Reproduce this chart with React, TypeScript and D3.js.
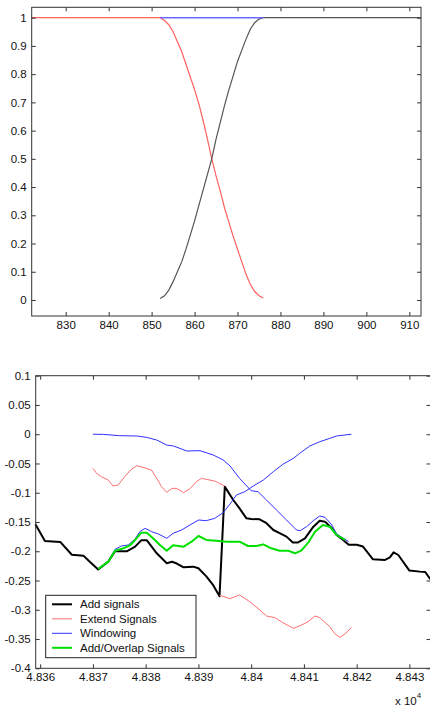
import React, { useEffect, useRef } from "react";
import * as d3 from "d3";

// ---- top chart: crossfade windows ----
const winX = [852, 853, 854, 855, 856, 857, 858, 859, 860, 861, 862, 863, 864,
  865, 866, 867, 868, 869, 870, 871, 872, 873, 874, 875, 876];
const fadeOut = [1.0, 0.99, 0.975, 0.95, 0.915, 0.88, 0.835, 0.79, 0.745, 0.695, 0.635, 0.57, 0.5,
  0.44, 0.385, 0.325, 0.275, 0.225, 0.18, 0.135, 0.09, 0.055, 0.03, 0.015, 0.007];
const fadeIn = [0.005, 0.015, 0.035, 0.065, 0.1, 0.135, 0.18, 0.23, 0.28, 0.335, 0.39, 0.445, 0.5,
  0.57, 0.63, 0.69, 0.745, 0.795, 0.845, 0.885, 0.925, 0.96, 0.982, 0.995, 1.0];
const topXTicks = [830, 840, 850, 860, 870, 880, 890, 900, 910];
const topYTicks = [0, 0.1, 0.2, 0.3, 0.4, 0.5, 0.6, 0.7, 0.8, 0.9, 1];

// ---- bottom chart: signal joining ----
const addSignals: [number, number][] = [
  [48359.1, -0.154], [48360.9, -0.1825], [48363.8, -0.184], [48366, -0.206], [48368.2, -0.2075],
  [48369.4, -0.218], [48371, -0.231], [48372.9, -0.218], [48374.2, -0.2], [48376.4, -0.2],
  [48378, -0.192], [48379.2, -0.181], [48380.2, -0.181], [48382.1, -0.2035], [48384, -0.2206],
  [48385, -0.218], [48385.9, -0.221], [48387.2, -0.2275], [48389, -0.2263], [48390, -0.229],
  [48391.5, -0.243], [48392.8, -0.258], [48394, -0.277], [48395, -0.0896], [48396.6, -0.1124],
  [48397.8, -0.1267], [48399.1, -0.1437], [48400, -0.1449], [48401.6, -0.1454], [48402.9, -0.152],
  [48404.2, -0.1637], [48405.4, -0.169], [48406.7, -0.175], [48407.9, -0.185], [48408.9, -0.185],
  [48410.2, -0.178], [48411.8, -0.158], [48413, -0.148], [48414, -0.1494], [48415.3, -0.1608],
  [48416.2, -0.172], [48417.5, -0.181], [48418.5, -0.189], [48420, -0.189], [48421.2, -0.192],
  [48423.1, -0.2138], [48425.3, -0.215], [48426.3, -0.2104], [48427, -0.2018], [48427.9, -0.2064],
  [48430, -0.233], [48432, -0.2348], [48433, -0.2354], [48434, -0.248],
];
const extendBefore: [number, number][] = [
  [48370, -0.0583], [48370.7, -0.0669], [48371.6, -0.0726], [48372.9, -0.0783], [48373.8, -0.0885],
  [48374.8, -0.0868], [48376, -0.0726], [48377.3, -0.06], [48378.3, -0.0538], [48379.5, -0.0566],
  [48381.1, -0.0612], [48382.1, -0.0754], [48383, -0.0896], [48384, -0.0993], [48385, -0.0925],
  [48385.9, -0.0925], [48387.2, -0.0999], [48388.5, -0.0925], [48389.6, -0.0811], [48390.6, -0.0754],
  [48391.5, -0.0771], [48393.1, -0.08], [48395, -0.0885],
];
const extendAfter: [number, number][] = [
  [48394, -0.2753], [48396, -0.281], [48397.8, -0.2747], [48399.7, -0.286], [48401.3, -0.2975],
  [48402.9, -0.3106], [48404.5, -0.3134], [48406, -0.322], [48408, -0.3317], [48409.3, -0.3271],
  [48410.8, -0.3203], [48412.1, -0.3106], [48413, -0.3134], [48414.9, -0.3288], [48415.9, -0.3413],
  [48416.8, -0.347], [48417.8, -0.3413], [48419, -0.3305],
];
const windowIn: [number, number][] = [
  [48370, 0], [48372, -0.0003], [48375, -0.0025], [48378.3, -0.003], [48380.2, -0.0054],
  [48382.1, -0.01], [48384, -0.0185], [48385.3, -0.0202], [48387.8, -0.0287], [48390.3, -0.0281],
  [48392.8, -0.0355], [48394.7, -0.044], [48396, -0.0543], [48397.8, -0.0754], [48400, -0.0965],
  [48401.3, -0.0982], [48402.9, -0.1124], [48404.8, -0.1295], [48406.7, -0.1466], [48408.6, -0.1637],
  [48409.3, -0.1648], [48410.5, -0.158], [48411.8, -0.1477], [48413, -0.1398], [48414, -0.142],
  [48415.3, -0.1551], [48416.2, -0.1705], [48417.5, -0.1779], [48418.5, -0.1836],
];
const windowOut: [number, number][] = [
  [48371, -0.2303], [48372.9, -0.2166], [48374.2, -0.1967], [48375.4, -0.191], [48376.7, -0.1893],
  [48378, -0.179], [48378.9, -0.1665], [48379.9, -0.1608], [48381.1, -0.1665], [48382.4, -0.1705],
  [48384, -0.1779], [48385.2, -0.1694], [48386.8, -0.1637], [48388.4, -0.1551], [48390, -0.1466],
  [48391.5, -0.1477], [48393.1, -0.1437], [48394.7, -0.134], [48396, -0.1192], [48397.2, -0.1039],
  [48398.8, -0.0982], [48400.4, -0.0885], [48402.3, -0.0783], [48404.2, -0.064], [48406.1, -0.0509],
  [48408, -0.0412], [48409.2, -0.0327], [48411.1, -0.0202], [48413, -0.0128], [48414.9, -0.0071],
  [48416.2, -0.003], [48419, 0],
];
const overlap: [number, number][] = [
  [48371, -0.2303], [48372.9, -0.2178], [48374.2, -0.199], [48375.8, -0.195], [48377.1, -0.1893],
  [48378, -0.1807], [48379.2, -0.1682], [48380.2, -0.1682], [48381.4, -0.1779], [48382.7, -0.1893],
  [48384, -0.199], [48385.2, -0.1899], [48387.2, -0.1921], [48388.7, -0.1836], [48390, -0.1739],
  [48391.5, -0.1807], [48393.4, -0.1819], [48395.3, -0.1836], [48397.8, -0.1836], [48399.4, -0.191],
  [48401, -0.191], [48402.3, -0.1882], [48403.8, -0.195], [48405.4, -0.199], [48407, -0.199],
  [48408.3, -0.2035], [48409.5, -0.199], [48410.8, -0.1853], [48412.1, -0.1665], [48413.6, -0.1551],
  [48414.9, -0.158], [48416.2, -0.1722], [48417.8, -0.1807],
];
const botXTicks = [48360, 48370, 48380, 48390, 48400, 48410, 48420, 48430];
const botXLabels = ["4.836", "4.837", "4.838", "4.839", "4.84", "4.841", "4.842", "4.843"];
const botYTicks = [0.1, 0.05, 0, -0.05, -0.1, -0.15, -0.2, -0.25, -0.3, -0.35, -0.4];
const botYLabels = ["0.1", "0.05", "0", "-0.05", "-0.1", "-0.15", "-0.2", "-0.25", "-0.3", "-0.35", "-0.4"];
const legendLabels = ["Add signals", "Extend Signals", "Windowing", "Add/Overlap Signals"];
const legendColors = ["#000000", "#ff7070", "#3030ff", "#00e000"];
const legendWidths = [2, 1, 1, 2];

const FONT = "'Liberation Sans', Arial, Helvetica, sans-serif";

function frame(g: any, x: any, y: any, xTicks: number[], xFmt: (d: any, i: number) => string,
  yTicks: number[], yFmt: (d: any, i: number) => string) {
  const [x0, x1] = x.range();
  const [y0, y1] = y.range(); // y0 bottom
  const style = (a: any) => {
    a.select(".domain").remove();
    a.selectAll("line").attr("stroke", "#333");
    a.selectAll("text").attr("font-family", FONT).attr("font-size", 11.5).attr("fill", "#111");
  };
  g.append("g").attr("transform", `translate(0,${y0})`)
    .call(d3.axisBottom(x).tickValues(xTicks).tickSize(-4).tickPadding(5).tickFormat(xFmt)).call(style);
  g.append("g").attr("transform", `translate(0,${y1})`)
    .call(d3.axisTop(x).tickValues(xTicks).tickSize(-4).tickFormat(() => "")).call(style);
  g.append("g").attr("transform", `translate(${x0},0)`)
    .call(d3.axisLeft(y).tickValues(yTicks).tickSize(-4).tickPadding(5).tickFormat(yFmt)).call(style);
  g.append("g").attr("transform", `translate(${x1},0)`)
    .call(d3.axisRight(y).tickValues(yTicks).tickSize(-4).tickFormat(() => "")).call(style);
  g.append("rect").attr("x", x0).attr("y", y1).attr("width", x1 - x0).attr("height", y0 - y1)
    .attr("fill", "none").attr("stroke", "#333").attr("stroke-width", 1);
}

export default function App() {
  const ref = useRef<SVGSVGElement>(null);

  useEffect(() => {
    const svg = d3.select(ref.current);
    svg.selectAll("*").remove();

    // top plot
    const tx = d3.scaleLinear().domain([822.08, 912.72]).range([31.7, 421]);
    const ty = d3.scaleLinear().domain([-0.0567, 1.0368]).range([316, 7.3]);
    const top = svg.append("g");
    const tline = d3.line<[number, number]>().x(d => tx(d[0])).y(d => ty(d[1]));
    const red: [number, number][] = [[822.08, 1], ...winX.map((v, i) => [v, fadeOut[i]] as [number, number])];
    const black: [number, number][] = [...winX.map((v, i) => [v, fadeIn[i]] as [number, number]), [912.72, 1]];
    const blue: [number, number][] = [[852, 1], [876, 1]];
    top.append("path").attr("d", tline(red)).attr("fill", "none").attr("stroke", "#ff6060").attr("stroke-width", 1.2);
    top.append("path").attr("d", tline(black)).attr("fill", "none").attr("stroke", "#555").attr("stroke-width", 1.2);
    top.append("path").attr("d", tline(blue)).attr("fill", "none").attr("stroke", "#6a6aff").attr("stroke-width", 1.4);
    frame(top, tx, ty, topXTicks, d => String(d), topYTicks, d => d3.format("~g")(d));

    // bottom plot
    const bx = d3.scaleLinear().domain([48359.15, 48434]).range([35.7, 430.5]);
    const by = d3.scaleLinear().domain([-0.4, 0.1]).range([668.3, 375.7]);
    const bot = svg.append("g");
    const bline = d3.line<[number, number]>().x(d => bx(d[0])).y(d => by(d[1]));
    const series: [[number, number][], number][] = [
      [addSignals, 0], [extendBefore, 1], [extendAfter, 1], [windowIn, 2], [windowOut, 2], [overlap, 3],
    ];
    series.forEach(([pts, k]) => {
      bot.append("path").attr("d", bline(pts)).attr("fill", "none")
        .attr("stroke", legendColors[k]).attr("stroke-width", legendWidths[k]).attr("stroke-linejoin", "round");
    });
    frame(bot, bx, by, botXTicks, (_d, i) => botXLabels[i], botYTicks, (_d, i) => botYLabels[i]);

    // multiplier
    const mult = bot.append("text").attr("x", 395).attr("y", 705)
      .attr("font-family", FONT).attr("font-size", 11.5).attr("fill", "#111");
    mult.append("tspan").text("x 10");
    mult.append("tspan").attr("font-size", 8).attr("dy", -7).text("4");

    // legend
    const lg = bot.append("g");
    lg.append("rect").attr("x", 45.7).attr("y", 595.3).attr("width", 150.3).attr("height", 62.4)
      .attr("fill", "#fff").attr("stroke", "#222").attr("stroke-width", 1);
    legendLabels.forEach((lab, i) => {
      const yy = 604.3 + i * 14.5;
      lg.append("line").attr("x1", 52).attr("x2", 72).attr("y1", yy).attr("y2", yy)
        .attr("stroke", legendColors[i]).attr("stroke-width", legendWidths[i]);
      lg.append("text").attr("x", 80).attr("y", yy + 4).text(lab)
        .attr("font-family", FONT).attr("font-size", 11.5).attr("fill", "#111");
    });
  }, []);

  return (
    <svg ref={ref} width={430} height={706}
      style={{ position: "absolute", left: 0, top: 0, background: "#fff" }} />
  );
}
